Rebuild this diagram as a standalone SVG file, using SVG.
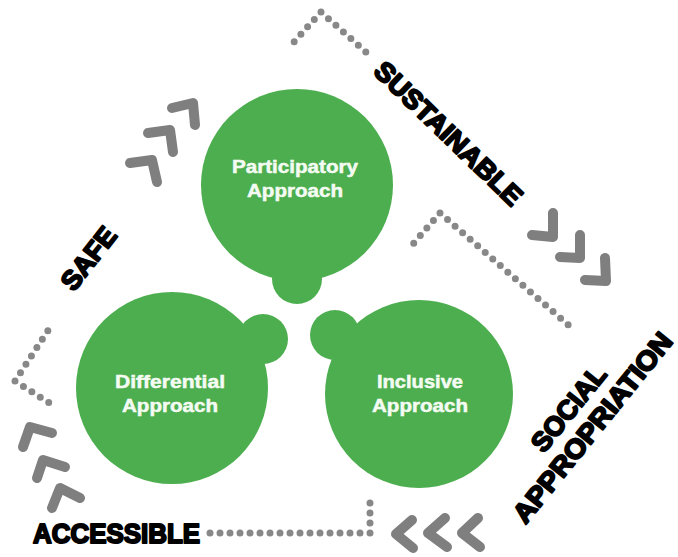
<svg xmlns="http://www.w3.org/2000/svg" width="678" height="557" viewBox="0 0 678 557">
  <style>
    .blob { fill: #4cae4f; }
    .ntext { font-family: "Liberation Sans", Arial, sans-serif; font-weight: bold; font-size: 18px; fill: #f4fbf2; stroke: #f4fbf2; stroke-width: 0.5; text-anchor: middle; }
    .label { font-family: "Liberation Sans", Arial, sans-serif; font-weight: 900; font-size: 27px; fill: #000; stroke: #000; stroke-width: 2; stroke-linejoin: round; }
    .dots { fill: none; stroke: #888888; stroke-width: 7; stroke-linecap: round; stroke-dasharray: 0 10; }
    .chev { fill: none; stroke: #7f7f7f; stroke-width: 10; stroke-linecap: round; stroke-linejoin: round; }
  </style>
  <rect width="678" height="557" fill="#ffffff"/>

  <g id="connectors">
    <path class="dots" d="M321,12 L293,43 M321,12 L367,53"/>
    <path class="dots" d="M440,213 L413,244 M440,213 L573,329"/>
    <path class="dots" d="M15,381 L49,329 M15,381 L51,404"/>
    <path class="dots" d="M370,533 L207,533 M370,533 L370,493"/>
  </g>

  <g id="chevrons">
    <path class="chev" d="M172,108 L193,103 L195,125"/>
    <path class="chev" d="M148,133 L170,130 L173,152"/>
    <path class="chev" d="M130,163 L152,160 L157,182"/>
    <path class="chev" d="M553,213 L553,237 L532,235"/>
    <path class="chev" d="M580,235 L580,258 L560,257"/>
    <path class="chev" d="M605,258 L606,281 L585,280"/>
    <path class="chev" d="M412,520 L396,534 L413,548"/>
    <path class="chev" d="M445,518 L428,533 L447,547"/>
    <path class="chev" d="M478,518 L462,533 L480,547"/>
    <path class="chev" d="M23,447 L30,427 L52,433"/>
    <path class="chev" d="M37,478 L43,460 L65,467"/>
    <path class="chev" d="M52,508 L60,488 L80,498"/>
  </g>

  <g id="participatory">
    <circle class="blob" cx="297" cy="185" r="96"/>
    <circle class="blob" cx="297" cy="279" r="25"/>
    <text class="ntext" x="295" y="173" textLength="126" lengthAdjust="spacingAndGlyphs">Participatory</text>
    <text class="ntext" x="295" y="197" textLength="96" lengthAdjust="spacingAndGlyphs">Approach</text>
  </g>

  <g id="differential">
    <circle class="blob" cx="172" cy="388" r="96"/>
    <circle class="blob" cx="263" cy="339" r="25"/>
    <text class="ntext" x="170" y="388" textLength="110" lengthAdjust="spacingAndGlyphs">Differential</text>
    <text class="ntext" x="170" y="412" textLength="96" lengthAdjust="spacingAndGlyphs">Approach</text>
  </g>

  <g id="inclusive">
    <circle class="blob" cx="419" cy="394" r="94"/>
    <circle class="blob" cx="335" cy="335" r="25"/>
    <text class="ntext" x="420" y="388" textLength="86" lengthAdjust="spacingAndGlyphs">Inclusive</text>
    <text class="ntext" x="420" y="412" textLength="96" lengthAdjust="spacingAndGlyphs">Approach</text>
  </g>

  <g id="labels">
    <g transform="translate(88,258) rotate(-52)">
      <text class="label" x="0" y="10" text-anchor="middle" textLength="72" lengthAdjust="spacingAndGlyphs">SAFE</text>
    </g>
    <g transform="translate(449,133) rotate(44)">
      <text class="label" x="0" y="10" text-anchor="middle" textLength="194" lengthAdjust="spacingAndGlyphs">SUSTAINABLE</text>
    </g>
    <g transform="translate(568,408) rotate(-51)">
      <text class="label" x="0" y="10" text-anchor="middle" textLength="102" lengthAdjust="spacingAndGlyphs">SOCIAL</text>
    </g>
    <g transform="translate(592,427) rotate(-51)">
      <text class="label" x="0" y="10" text-anchor="middle" textLength="236" lengthAdjust="spacingAndGlyphs">APPROPRIATION</text>
    </g>
    <text class="label" x="33" y="543" textLength="167" lengthAdjust="spacingAndGlyphs">ACCESSIBLE</text>
  </g>
</svg>
